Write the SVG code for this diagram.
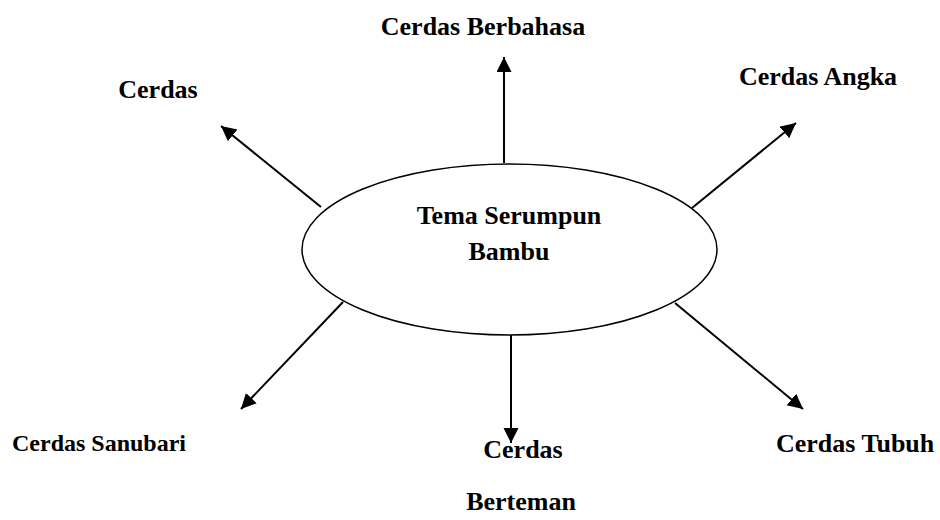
<svg xmlns="http://www.w3.org/2000/svg" width="940" height="520" viewBox="0 0 940 520">
<style>
text{font-family:"Liberation Serif","Times New Roman",serif;font-weight:bold;font-size:26px;fill:#000}
.c{text-anchor:middle}
.conn line{stroke:#000;stroke-width:2;marker-end:url(#ah)}
</style>
<defs>
<marker id="ah" markerUnits="userSpaceOnUse" markerWidth="16" markerHeight="16" refX="15" refY="7.5" orient="auto" viewBox="0 0 16 16">
<path d="M0,0 L15,7.5 L0,15 z" fill="#000"/>
</marker>
</defs>
<rect width="940" height="520" fill="#fff"/>
<g id="connectors" class="conn">
<line x1="504" y1="163" x2="504" y2="57"/>
<line x1="511" y1="335" x2="511" y2="443"/>
<line x1="321" y1="207" x2="221" y2="126"/>
<line x1="692" y1="208" x2="796" y2="123"/>
<line x1="343" y1="302" x2="241" y2="409"/>
<line x1="675" y1="303" x2="803" y2="409"/>
</g>
<g id="center">
<ellipse cx="509.5" cy="249.5" rx="207.5" ry="85.5" fill="#fff" stroke="#000" stroke-width="1.5"/>
<text class="c" x="509" y="224">Tema Serumpun</text>
<text class="c" x="509" y="260">Bambu</text>
</g>
<g id="berbahasa"><text class="c" x="483" y="35">Cerdas Berbahasa</text></g>
<g id="cerdas"><text class="c" x="158" y="98">Cerdas</text></g>
<g id="angka"><text class="c" x="818" y="85">Cerdas Angka</text></g>
<g id="sanubari"><text x="12" y="451" style="font-size:24px">Cerdas Sanubari</text></g>
<g id="tubuh"><text x="776" y="452">Cerdas Tubuh</text></g>
<g id="berteman">
<text class="c" x="523" y="458">Cerdas</text>
<text class="c" x="521" y="510">Berteman</text>
</g>
</svg>
